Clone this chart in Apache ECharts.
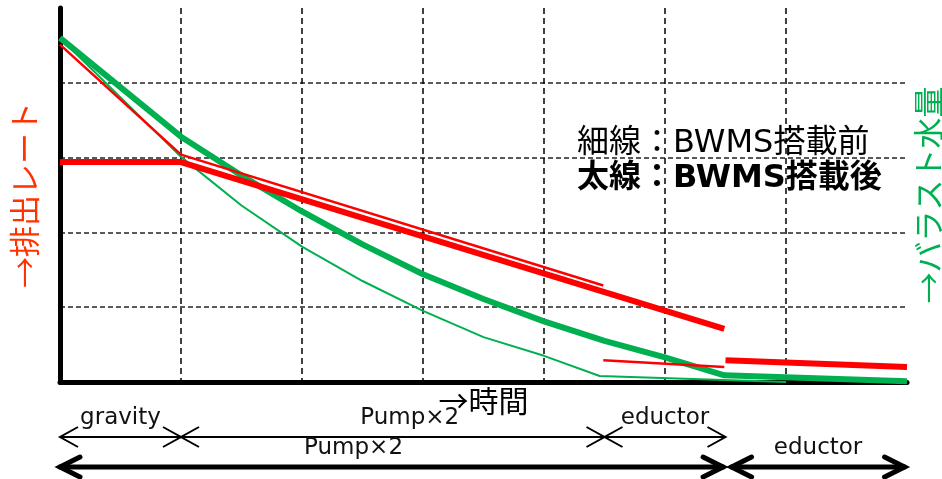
<!DOCTYPE html>
<html>
<head>
<meta charset="utf-8">
<script src="https://cdn.jsdelivr.net/npm/echarts@6/dist/echarts.min.js"></script>
<style>
  html, body { margin: 0; padding: 0; background: #fff; }
  #main { width: 942px; height: 479px; }
</style>
</head>
<body>
<div id="main"></div>
<script>
// 排出レート (red) : thin = BWMS搭載前, thick = BWMS搭載後
const redThin1 = [[0, 4.51], [1, 3.04], [4.49, 1.29]]
const redThin2 = [[4.49, 0.29], [5.49, 0.2]]
const redThick1 = [[0, 2.94], [1, 2.94], [5.49, 0.71]]
const redThick2 = [[5.5, 0.29], [7, 0.2]]

// バラスト水量 (green)
const greenThin = [[0, 4.6], [1, 3.01], [1.5, 2.36], [2, 1.81], [2.5, 1.35], [3, 0.95],
  [3.5, 0.6], [4, 0.35], [4.46, 0.08], [6, 0]]
const greenThick = [[0, 4.6], [1, 3.28], [1.5, 2.76], [2, 2.28], [2.5, 1.84], [3, 1.44],
  [3.5, 1.11], [4, 0.81], [4.5, 0.55], [5, 0.33], [5.49, 0.09], [7, 0.01]]

// 運転モード (row 1 = 搭載前, row 2 = 搭載後)
const phaseNames = ['gravity', 'Pump×2', 'eductor', 'Pump×2', 'eductor']
const phaseStart = [0, 1, 4.5, 0, 5.55]
const phaseEnd = [1, 4.5, 5.5, 5.48, 6.98]
const phaseRow = [1, 1, 1, 2, 2]

const RED = '#ff0000'
const GREEN = '#00b050'
const labelShift = [0, 17, 0, -38, 0]
const latinFont = "'DejaVu Sans', 'Noto Sans CJK JP', sans-serif"
const cjkFont = "'Noto Sans CJK JP', sans-serif"

const chart = echarts.init(document.getElementById('main'))

function lineSeries(data, color, width) {
  return {
    type: 'line',
    data: data,
    showSymbol: false,
    symbol: 'none',
    lineStyle: { color: color, width: width, cap: 'butt', join: 'round' },
    silent: true,
    animation: false
  }
}

function renderArrow(params, api) {
  const i = api.value(3)
  const row = api.value(2)
  const p0 = api.coord([api.value(0), row])
  const p1 = api.coord([api.value(1), row])
  const thick = row === 2
  const w = thick ? 5 : 2
  const d = thick ? 20 : 18
  const h = 10
  const y = p0[1]
  const stroke = { stroke: '#000', lineWidth: w, fill: null, lineJoin: 'miter', lineCap: thick ? 'round' : 'butt' }
  return {
    type: 'group',
    children: [
      { type: 'line', shape: { x1: p0[0], y1: y, x2: p1[0], y2: y }, style: stroke },
      { type: 'polyline', shape: { points: [[p0[0] + d, y - h], [p0[0], y], [p0[0] + d, y + h]] }, style: stroke },
      { type: 'polyline', shape: { points: [[p1[0] - d, y - h], [p1[0], y], [p1[0] - d, y + h]] }, style: stroke },
      {
        type: 'text',
        style: {
          text: phaseNames[i],
          x: (p0[0] + p1[0]) / 2 + labelShift[i],
          y: y - 19,
          align: 'center',
          verticalAlign: 'middle',
          font: '23px ' + latinFont,
          fill: '#111'
        }
      }
    ]
  }
}

const option = {
  animation: false,
  backgroundColor: '#fff',
  grid: [
    { left: 60, top: 8, width: 847, height: 374, outerBoundsMode: 'none', containLabel: false },
    { left: 60, top: 407, width: 847, height: 60, outerBoundsMode: 'none', containLabel: false }
  ],
  xAxis: [
    {
      type: 'value',
      gridIndex: 0,
      min: 0,
      max: 7,
      interval: 1,
      name: '→時間',
      nameLocation: 'middle',
      nameGap: 4,
      nameTextStyle: { color: '#000', fontSize: 30, fontFamily: cjkFont },
      axisLine: { show: true, lineStyle: { color: '#000', width: 5 } },
      axisTick: { show: false },
      axisLabel: { show: false },
      splitLine: {
        show: true,
        showMinLine: false,
        showMaxLine: false,
        lineStyle: { color: '#000', width: 1.5, type: [6, 4] }
      }
    },
    { type: 'value', gridIndex: 1, min: 0, max: 7, show: false }
  ],
  yAxis: [
    {
      type: 'value',
      gridIndex: 0,
      min: 0,
      max: 5,
      interval: 1,
      name: '→排出レート',
      nameLocation: 'middle',
      nameRotate: 90,
      nameGap: 20,
      nameTextStyle: { color: '#ff3300', fontSize: 31, fontFamily: cjkFont },
      axisLine: { show: true, lineStyle: { color: '#000', width: 5 } },
      axisTick: { show: false },
      axisLabel: { show: false },
      splitLine: {
        show: true,
        showMinLine: false,
        showMaxLine: false,
        lineStyle: { color: '#595959', width: 2, type: [5, 3] }
      }
    },
    {
      type: 'value',
      gridIndex: 0,
      position: 'right',
      min: 0,
      max: 5,
      name: '→バラスト水量',
      nameLocation: 'middle',
      nameRotate: 90,
      nameGap: 6,
      nameTextStyle: { color: GREEN, fontSize: 31, fontFamily: cjkFont },
      axisLine: { show: false },
      axisTick: { show: false },
      axisLabel: { show: false },
      splitLine: { show: false }
    },
    { type: 'value', gridIndex: 1, min: 0, max: 2, inverse: true, show: false }
  ],
  graphic: [
    {
      type: 'text',
      left: 577,
      top: 128,
      style: { text: '細線：BWMS搭載前', font: '32px ' + latinFont, fill: '#000' }
    },
    {
      type: 'text',
      left: 577,
      top: 163,
      style: { text: '太線：BWMS搭載後', font: 'bold 32px ' + latinFont, fill: '#000' }
    }
  ],
  series: [
    lineSeries(greenThin, GREEN, 2),
    lineSeries(greenThick, GREEN, 6),
    lineSeries(redThin1, RED, 2.5),
    lineSeries(redThin2, RED, 2.5),
    lineSeries(redThick1, RED, 6),
    lineSeries(redThick2, RED, 6),
    {
      type: 'custom',
      xAxisIndex: 1,
      yAxisIndex: 2,
      silent: true,
      clip: false,
      renderItem: renderArrow,
      data: phaseNames.map((n, i) => [phaseStart[i], phaseEnd[i], phaseRow[i], i])
    }
  ]
}

chart.setOption(option)
</script>
</body>
</html>
